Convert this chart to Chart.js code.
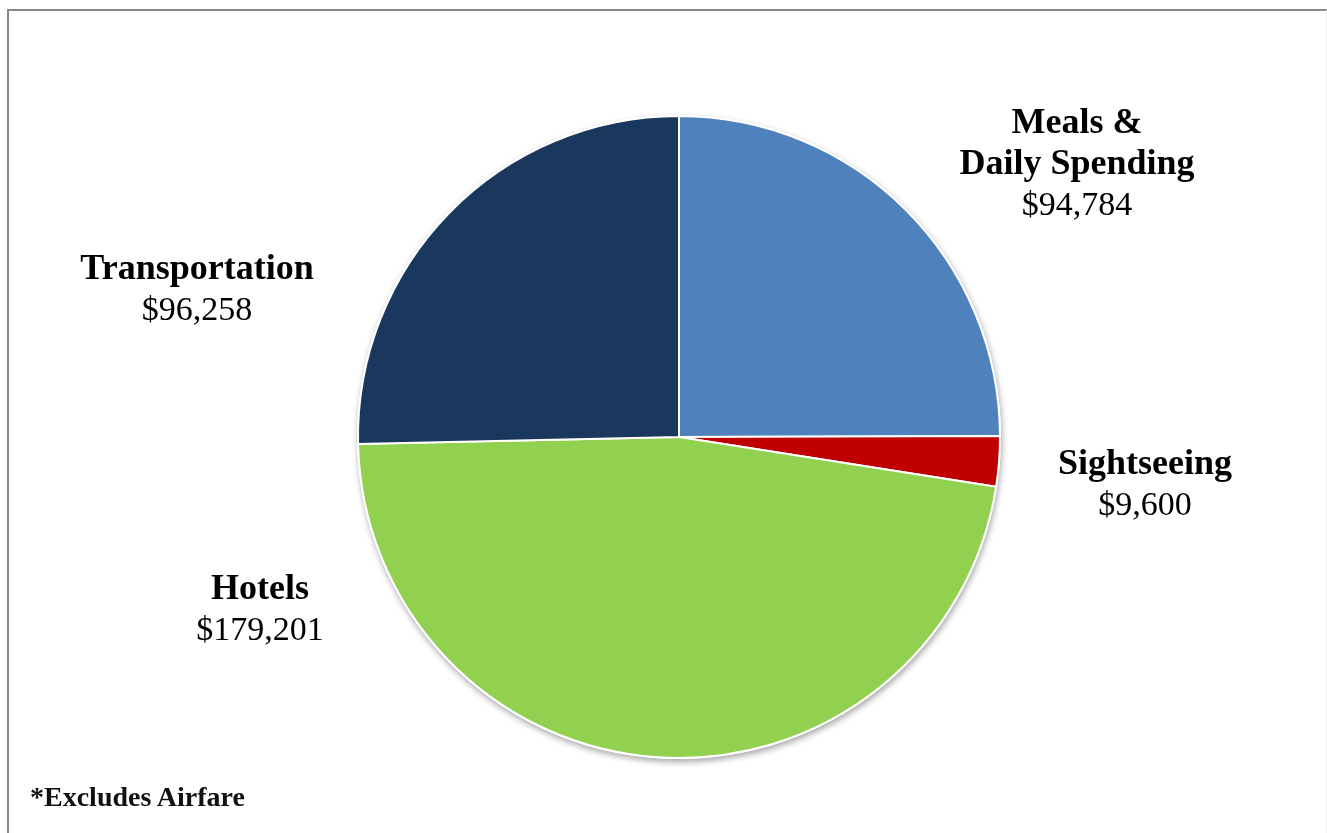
<!DOCTYPE html>
<html>
<head>
<meta charset="utf-8">
<title>Trip spending</title>
<script src="https://cdn.jsdelivr.net/npm/chart.js@4"></script>
<style>
  html, body { margin: 0; padding: 0; background: #fff; overflow: hidden; }
  #wrap { position: absolute; left: 0; top: 0; width: 1327px; height: 833px; }
  #frame {
    position: absolute; left: 7px; top: 9px; width: 1317px; height: 840px;
    border-left: 2px solid #888; border-top: 2px solid #888; border-right: 1px solid #eee;
  }
  #note {
    position: absolute; left: 30px; top: 781px;
    font: bold 28px "Liberation Serif", serif; color: #111;
  }
</style>
</head>
<body>
<div id="wrap">
  <div id="frame"></div>
  <canvas id="pieChart"></canvas>
  <div id="note">*Excludes Airfare</div>
</div>
<script>
// chart data
const categories = ["Meals & Daily Spending", "Sightseeing", "Hotels", "Transportation"]
const titleLines = [["Meals &", "Daily Spending"], ["Sightseeing"], ["Hotels"], ["Transportation"]]
const amounts = [94784, 9600, 179201, 96258]
const sliceColors = ["#4f81bd", "#c00000", "#92d050", "#1a375e"]

// where each label sits, relative to the pie centre (first line, px)
const labelOffsets = [
  { dx: 398, dy: -313 },
  { dx: 466, dy: 28 },
  { dx: -419, dy: 153 },
  { dx: -482, dy: -167 },
]
const lineHeight = 41

function formatMoney(v) {
  return "$" + v.toLocaleString("en-US")
}

// soft shadow under the pie, like the Office chart
const pieShadow = {
  id: "pieShadow",
  beforeDatasetsDraw(chart) {
    const arc = chart.getDatasetMeta(0).data[0]
    if (!arc) return
    const ctx = chart.ctx
    ctx.save()
    ctx.shadowColor = "rgba(0,0,0,0.35)"
    ctx.shadowBlur = 6
    ctx.shadowOffsetY = 3
    ctx.shadowOffsetX = 1
    ctx.fillStyle = "#fff"
    ctx.beginPath()
    ctx.arc(arc.x, arc.y, arc.outerRadius + 1, 0, Math.PI * 2)
    ctx.fill()
    ctx.restore()
  },
}

const sliceLabels = {
  id: "sliceLabels",
  afterDatasetsDraw(chart) {
    const meta = chart.getDatasetMeta(0)
    const ctx = chart.ctx
    ctx.save()
    ctx.fillStyle = "#000"
    ctx.textAlign = "center"
    ctx.textBaseline = "middle"
    meta.data.forEach((arc, i) => {
      const x = arc.x + labelOffsets[i].dx
      let y = arc.y + labelOffsets[i].dy
      ctx.font = 'bold 36px "Liberation Serif", serif'
      titleLines[i].forEach((line) => {
        ctx.fillText(line, x, y)
        y += lineHeight
      })
      ctx.font = '34px "Liberation Serif", serif'
      ctx.fillText(formatMoney(amounts[i]), x, y)
    })
    ctx.restore()
  },
}

const ctx = document.getElementById("pieChart").getContext("2d")
new Chart(ctx, {
  type: "pie",
  data: {
    labels: categories,
    datasets: [
      {
        data: amounts,
        backgroundColor: sliceColors,
        borderColor: "#fff",
        borderWidth: 2,
        radius: 321,
      },
    ],
  },
  options: {
    responsive: true,
    maintainAspectRatio: false,
    animation: false,
    layout: { padding: { left: 31, top: 41, right: 0, bottom: 0 } },
    plugins: {
      legend: { display: false },
      tooltip: { enabled: false },
    },
  },
  plugins: [pieShadow, sliceLabels],
})
</script>
</body>
</html>
